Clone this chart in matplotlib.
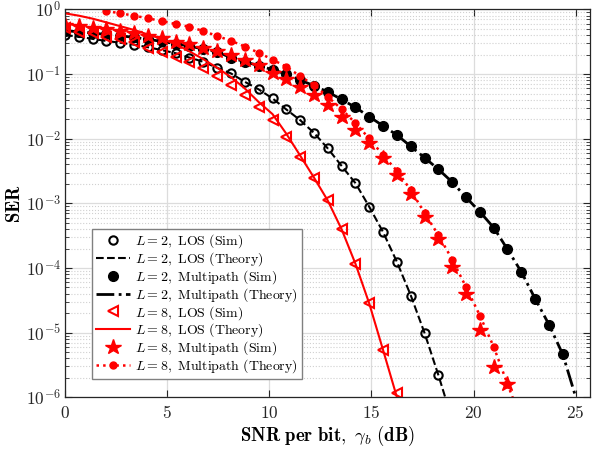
import numpy as np
import matplotlib.pyplot as plt
from matplotlib.ticker import LogLocator, NullLocator, NullFormatter

plt.rcParams['mathtext.fontset'] = 'cm'

# SNR per bit grid (dB), shared by all curves
snr_db = [0.00, 0.68, 1.35, 2.03, 2.71, 3.39, 4.06, 4.74, 5.42, 6.09,
          6.77, 7.45, 8.12, 8.80, 9.48, 10.16, 10.83, 11.51, 12.19, 12.86,
          13.54, 14.22, 14.89, 15.57, 16.25, 16.93, 17.60, 18.28, 18.96, 19.63,
          20.31, 20.99, 21.66, 22.34, 23.02, 23.70, 24.37, 25.05]

# L = 2, LOS
los2_sim = [0.40, 0.38, 0.35, 0.325, 0.305, 0.285, 0.26, 0.235, 0.21, 0.18,
            0.155, 0.125, 0.1025, 0.076, 0.058, 0.042, 0.0284, 0.0194, 0.0123, 0.0071,
            0.0038, 0.00205, 8.9e-4, 3.6e-4, 1.24e-4, 3.75e-5, 9.9e-6, 2.2e-6]
los2_theory = [0.40, 0.38, 0.35, 0.325, 0.305, 0.285, 0.26, 0.235, 0.21, 0.18,
               0.155, 0.125, 0.1025, 0.076, 0.058, 0.042, 0.0284, 0.0194, 0.0123, 0.0071,
               0.0038, 0.00205, 8.9e-4, 3.6e-4, 1.24e-4, 3.75e-5, 9.9e-6, 2.2e-6, 4.4e-7]

# L = 2, Multipath
mp2_sim = [0.47, 0.45, 0.43, 0.41, 0.39, 0.37, 0.345, 0.32, 0.295, 0.27,
           0.245, 0.22, 0.18, 0.155, 0.135, 0.117, 0.100, 0.081, 0.066, 0.053,
           0.0405, 0.0305, 0.022, 0.0158, 0.0114, 0.0076, 0.0051, 0.00336, 0.00213, 0.00124,
           7.4e-4, 4.2e-4, 1.95e-4, 8.7e-5, 3.33e-5, 1.32e-5, 4.6e-6]
mp2_theory = [0.47, 0.45, 0.43, 0.41, 0.39, 0.37, 0.345, 0.32, 0.295, 0.27,
              0.245, 0.22, 0.18, 0.155, 0.135, 0.117, 0.100, 0.081, 0.066, 0.053,
              0.0405, 0.0305, 0.022, 0.0158, 0.0114, 0.0076, 0.0051, 0.00336, 0.00213, 0.00124,
              7.4e-4, 4.2e-4, 1.95e-4, 8.7e-5, 3.33e-5, 1.32e-5, 4.6e-6, 9e-7]

# L = 8, LOS
los8_sim = [0.51, 0.45, 0.43, 0.38, 0.345, 0.315, 0.255, 0.22, 0.182, 0.155,
            0.123, 0.093, 0.068, 0.0473, 0.0312, 0.0194, 0.0105, 0.0053, 0.0025, 0.00111,
            3.98e-4, 1.16e-4, 2.85e-5, 5.4e-6, 1.15e-6]
los8_theory = [0.87, 0.80, 0.72, 0.63, 0.55, 0.48, 0.41, 0.35, 0.29, 0.225,
               0.17, 0.125, 0.09, 0.06, 0.037, 0.024, 0.012, 0.0055, 0.0025, 0.00111,
               3.98e-4, 1.16e-4, 2.85e-5, 5.4e-6, 1.0e-6, 1.8e-7]

# L = 8, Multipath (theory is above 1 for the first three points)
mp8_sim = [0.58, 0.56, 0.51, 0.49, 0.46, 0.43, 0.39, 0.357, 0.316, 0.29,
           0.25, 0.23, 0.197, 0.165, 0.138, 0.1025, 0.0828, 0.0636, 0.0473, 0.0331,
           0.0218, 0.0136, 0.00845, 0.00495, 0.00273, 0.00142, 6.1e-4, 2.86e-4, 1.04e-4, 3.93e-5,
           1.11e-5, 2.95e-6, 1.61e-6]
mp8_theory_start = 3
mp8_theory = [0.944, 0.87, 0.80, 0.728, 0.661, 0.594, 0.54, 0.463, 0.388, 0.328,
              0.267, 0.214, 0.1675, 0.13, 0.093, 0.0676, 0.0446, 0.0287, 0.0174, 0.0101,
              0.00557, 0.00318, 0.0016, 7.1e-4, 3.22e-4, 1.35e-4, 5.09e-5, 1.84e-5, 6.0e-6, 1.61e-6,
              4.4e-7]

x_ticks = [0, 5, 10, 15, 20, 25]
y_exps = [-6, -5, -4, -3, -2, -1, 0]


def xs(n, start=0):
    return snr_db[start:start + n]


fig = plt.figure(figsize=(5.92, 4.49), dpi=100)
ax = fig.add_axes([0.1098, 0.1151, 0.8868, 0.8639])

ax.semilogy(xs(len(los2_sim)), los2_sim, 'o', color='black', mfc='none', ms=6, mew=1.5,
            label=r'$L = 2,\ \mathrm{LOS\ (Sim)}$')
ax.semilogy(xs(len(los2_theory)), los2_theory, '--', color='black', lw=1.5,
            label=r'$L = 2,\ \mathrm{LOS\ (Theory)}$')
ax.semilogy(xs(len(mp2_sim)), mp2_sim, 'o', color='black', ms=7,
            label=r'$L = 2,\ \mathrm{Multipath\ (Sim)}$')
ax.semilogy(xs(len(mp2_theory)), mp2_theory, '-.', color='black', lw=2,
            label=r'$L = 2,\ \mathrm{Multipath\ (Theory)}$')
ax.semilogy(xs(len(los8_sim)), los8_sim, '<', color='red', mfc='none', ms=7, mew=1.5,
            label=r'$L = 8,\ \mathrm{LOS\ (Sim)}$')
ax.semilogy(xs(len(los8_theory)), los8_theory, '-', color='red', lw=1.5,
            label=r'$L = 8,\ \mathrm{LOS\ (Theory)}$')
ax.semilogy(xs(len(mp8_sim)), mp8_sim, '*', color='red', ms=11.5,
            label=r'$L = 8,\ \mathrm{Multipath\ (Sim)}$')
ax.semilogy(xs(len(mp8_theory), mp8_theory_start), mp8_theory, ':', marker='o', color='red',
            lw=1.8, ms=5, label=r'$L = 8,\ \mathrm{Multipath\ (Theory)}$')

ax.set_xlim(0, 25.7)
ax.set_ylim(1e-6, 1)

ax.set_xticks(x_ticks)
ax.set_xticklabels([r'$\mathbf{%d}$' % t for t in x_ticks], fontsize=12.5)
ax.xaxis.set_minor_locator(NullLocator())
ax.set_yticks([10.0 ** e for e in y_exps])
ax.set_yticklabels([r'$\mathbf{10^{%d}}$' % e for e in y_exps], fontsize=12.5)
ax.yaxis.set_minor_locator(LogLocator(base=10, subs=np.arange(2, 10)))
ax.yaxis.set_minor_formatter(NullFormatter())

ax.tick_params(which='both', direction='in', top=True, right=True, colors='#262626')
ax.tick_params(which='major', length=5, width=0.8)
ax.tick_params(which='minor', length=3, width=0.6)
ax.tick_params(axis='x', pad=5)
ax.tick_params(axis='y', pad=3)
for sp in ax.spines.values():
    sp.set_color('#262626')
    sp.set_linewidth(0.9)

ax.set_axisbelow(True)
ax.grid(True, which='major', color='#dcdcdc', lw=0.9, ls='-')
ax.grid(True, which='minor', axis='y', color='#d0d0d0', lw=0.8, ls=':')

ax.set_xlabel(r'$\mathbf{SNR\ per\ bit,}\ \gamma_b\ \mathbf{(dB)}$', fontsize=13.5, labelpad=1)
ax.set_ylabel(r'$\mathbf{SER}$', fontsize=13.5, labelpad=1)

leg = ax.legend(loc='lower left', bbox_to_anchor=(0.052, 0.047), borderaxespad=0,
                fontsize=10, fancybox=False, framealpha=1, edgecolor='#808080',
                handlelength=2.4, handletextpad=0.35, labelspacing=0.0, borderpad=0.3)
leg.get_frame().set_linewidth(1.0)

fig.savefig('out.png', dpi=100)
